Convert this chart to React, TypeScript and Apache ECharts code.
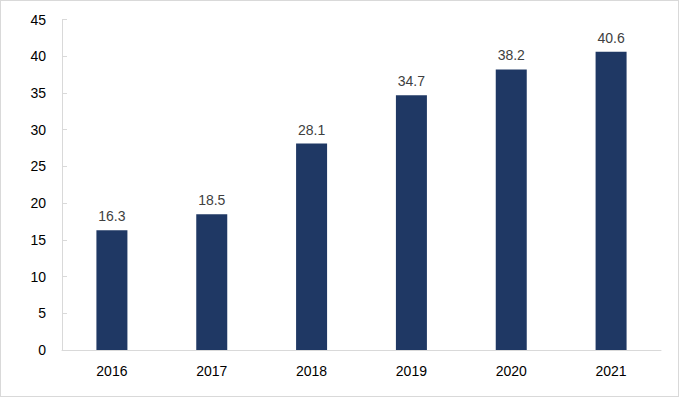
import React, { useEffect, useRef } from "react";
import * as echarts from "echarts";

const categories = ["2016", "2017", "2018", "2019", "2020", "2021"];
const values = [16.3, 18.5, 28.1, 34.7, 38.2, 40.6];

export default function App() {
  const ref = useRef<HTMLDivElement>(null);
  useEffect(() => {
    document.body.style.margin = "0";
    const chart = echarts.init(ref.current!, null, { renderer: "svg" });
    chart.setOption({
      animation: false,
      grid: { left: 61, right: 17, top: 18.5, bottom: 46, containLabel: false },
      xAxis: {
        type: "category",
        data: categories,
        axisLine: { lineStyle: { color: "#d9d9d9", width: 1 } },
        axisTick: { show: false },
        axisLabel: { color: "#000", fontSize: 14, fontFamily: "Liberation Sans, Arial", margin: 14 },
      },
      yAxis: {
        type: "value",
        min: 0,
        max: 45,
        interval: 5,
        splitLine: { show: false },
        axisLine: { show: true, lineStyle: { color: "#d9d9d9", width: 1 } },
        axisTick: { show: true, inside: true, length: 5, lineStyle: { color: "#d9d9d9" } },
        axisLabel: { color: "#000", fontSize: 14, fontFamily: "Liberation Sans, Arial", margin: 16 },
      },
      series: [
        {
          type: "bar",
          data: values,
          barWidth: 31,
          itemStyle: { color: "#1f3864" },
          label: {
            show: true,
            position: "top",
            distance: 7,
            color: "#404040",
            fontSize: 14,
            fontFamily: "Liberation Sans, Arial",
          },
        },
      ],
    });
    return () => chart.dispose();
  }, []);
  return (
    <div
      style={{
        position: "absolute",
        left: 0,
        top: 0,
        width: 679,
        height: 397,
        boxSizing: "border-box",
        border: "1px solid #d9d9d9",
        background: "#fff",
      }}
    >
      <div ref={ref} style={{ width: 677, height: 395 }} />
    </div>
  );
}
